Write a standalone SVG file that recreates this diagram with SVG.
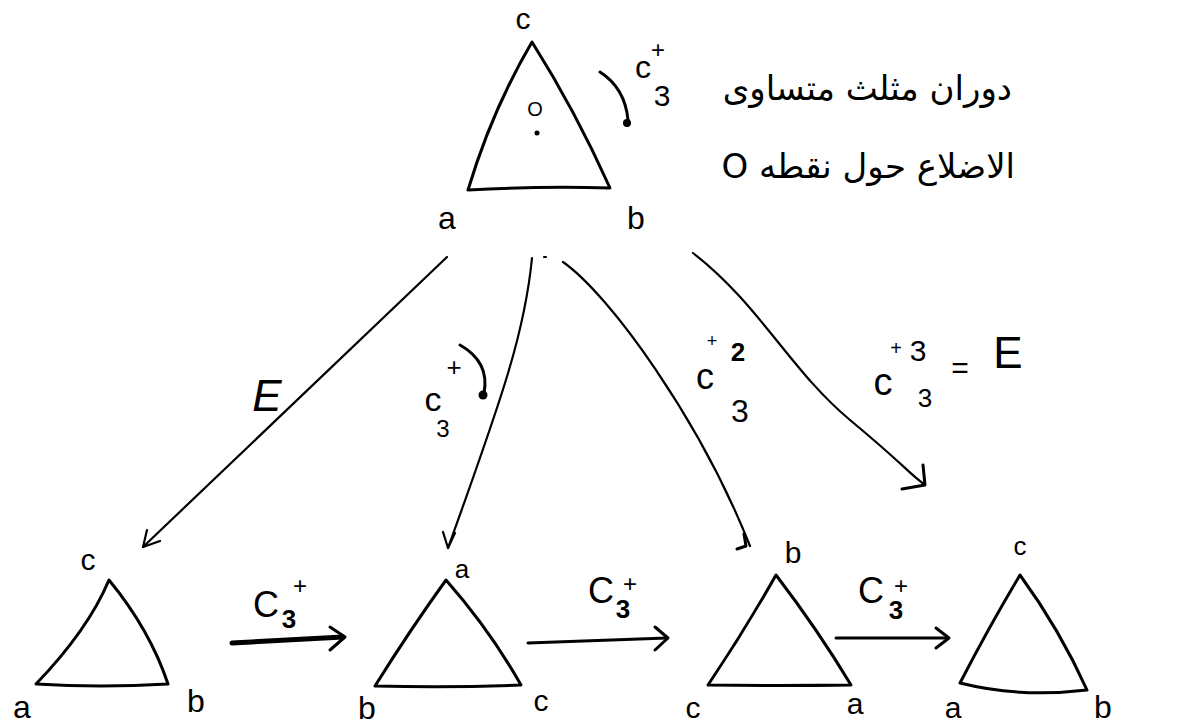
<svg xmlns="http://www.w3.org/2000/svg" width="1177" height="728" viewBox="0 0 1177 728">
<style>
.ln{fill:none;stroke:#000;stroke-width:3;stroke-linecap:round;stroke-linejoin:round}
.thin{fill:none;stroke:#000;stroke-width:2.2;stroke-linecap:round;stroke-linejoin:round}
.thick{fill:none;stroke:#000;stroke-width:5;stroke-linecap:round;stroke-linejoin:round}
.t{font-family:"Liberation Sans",Arial,sans-serif;fill:#000;text-anchor:middle}
.fa{font-family:"DejaVu Sans","Noto Sans",sans-serif;fill:#000;font-size:34px}
</style>
<rect width="1177" height="728" fill="#fff"/>

<g id="top-triangle">
<path class="ln" d="M532,42 Q492,110 468,190 Q540,186 610,188 Q575,110 532,42 Z"/>
<text class="t" x="523" y="29" font-size="30">c</text>
<text class="t" x="447" y="229" font-size="32">a</text>
<text class="t" x="636" y="229" font-size="32">b</text>
<text class="t" x="535" y="116" font-size="20">O</text>
<circle cx="537" cy="133" r="2.5" fill="#000"/>
<path class="ln" d="M600,72 Q625,88 628,120"/>
<circle cx="627" cy="123" r="4" fill="#000"/>
<text class="t" x="643" y="78" font-size="32">c</text>
<text class="t" x="658" y="58" font-size="24">+</text>
<text class="t" x="662" y="106" font-size="30">3</text>
</g>

<g id="caption">
<text class="fa" x="1012" y="100" direction="rtl" text-anchor="start">دوران مثلث متساوی</text>
<text class="fa" x="1015" y="178" direction="rtl" text-anchor="start">الاضلاع حول نقطه O</text>
</g>

<g id="connectors">
<path class="thin" d="M447,257 L143,547"/>
<path class="thin" d="M143,547 L147,530 M143,547 L160,541"/>
<path class="thin" d="M532,258 C525,330 505,390 448,548"/>
<path class="thin" d="M448,548 L443,532 M448,548 L455,533"/>
<path class="thin" d="M544,257 L546,257"/>
<path class="thin" d="M563,262 C610,295 700,420 750,546"/>
<path class="ln" d="M744,534 L746,546 L737,549"/>
<path class="thin" d="M693,253 C760,305 790,370 850,420 S905,470 925,485"/>
<path class="ln" d="M923,465 L925,485 L902,489"/>
<path class="ln" d="M460,345 Q490,362 484,393"/>
<circle cx="483" cy="395" r="4.5" fill="#000"/>
<path class="thick" d="M232,643 L343,637"/>
<path class="ln" d="M330,627 L345,637 L330,650"/>
<path class="ln" d="M528,643 L667,638"/>
<path class="ln" d="M655,627 L668,638 L655,650"/>
<path class="ln" d="M836,638 L948,638"/>
<path class="ln" d="M936,628 L949,638 L936,648"/>
</g>

<g id="edge-labels">
<text class="t" x="267" y="411" font-size="44" font-style="italic">E</text>
<text class="t" x="433" y="411" font-size="34">c</text>
<text class="t" x="454" y="376" font-size="26">+</text>
<text class="t" x="443" y="437" font-size="24">3</text>
<text class="t" x="705" y="389" font-size="36">c</text>
<text class="t" x="712" y="347" font-size="18">+</text>
<text class="t" x="738" y="361" font-size="26" font-weight="bold">2</text>
<text class="t" x="740" y="422" font-size="32">3</text>
<text class="t" x="883" y="395" font-size="38">c</text>
<text class="t" x="896" y="355" font-size="20">+</text>
<text class="t" x="918" y="361" font-size="30">3</text>
<text class="t" x="925" y="407" font-size="26">3</text>
<text class="t" x="960" y="378" font-size="30">=</text>
<text class="t" x="1008" y="368" font-size="44">E</text>
<text class="t" x="266" y="617" font-size="36">C</text>
<text class="t" x="300" y="594" font-size="24">+</text>
<text class="t" x="289" y="628" font-size="26" font-weight="bold">3</text>
<text class="t" x="601" y="603" font-size="36">C</text>
<text class="t" x="630" y="592" font-size="24">+</text>
<text class="t" x="623" y="618" font-size="26" font-weight="bold">3</text>
<text class="t" x="871" y="603" font-size="36">C</text>
<text class="t" x="901" y="594" font-size="24">+</text>
<text class="t" x="896" y="619" font-size="26" font-weight="bold">3</text>
</g>

<g id="tri-1">
<path class="ln" d="M109,580 Q88,630 36,684 Q100,688 168,684 Q150,630 109,580 Z"/>
<text class="t" x="88" y="570" font-size="30">c</text>
<text class="t" x="22" y="718" font-size="32">a</text>
<text class="t" x="196" y="712" font-size="32">b</text>
</g>
<g id="tri-2">
<path class="ln" d="M446,580 Q410,630 375,686 Q450,688 521,685 Q490,630 446,580 Z"/>
<text class="t" x="462" y="578" font-size="26">a</text>
<text class="t" x="367" y="719" font-size="32">b</text>
<text class="t" x="541" y="711" font-size="30">c</text>
</g>
<g id="tri-3">
<path class="ln" d="M776,575 Q745,630 708,685 Q780,686 851,685 Q818,630 776,575 Z"/>
<text class="t" x="793" y="563" font-size="30">b</text>
<text class="t" x="693" y="718" font-size="30">c</text>
<text class="t" x="855" y="714" font-size="30">a</text>
</g>
<g id="tri-4">
<path class="ln" d="M1020,575 Q990,625 960,683 Q1020,698 1087,690 Q1060,630 1020,575 Z"/>
<text class="t" x="1020" y="555" font-size="26">c</text>
<text class="t" x="953" y="718" font-size="30">a</text>
<text class="t" x="1103" y="718" font-size="32">b</text>
</g>
</svg>
